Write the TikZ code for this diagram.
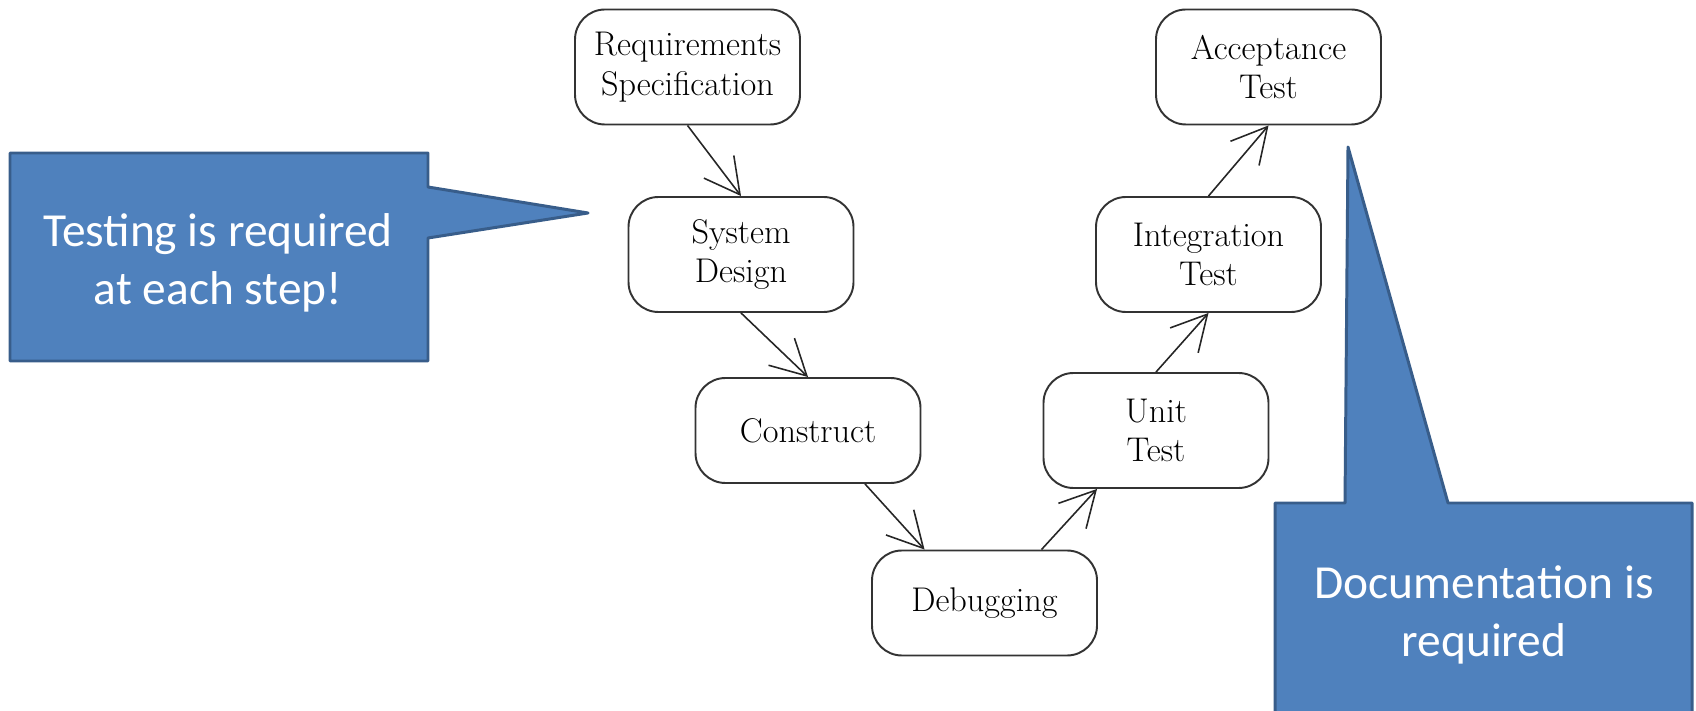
\documentclass[tikz,border=0pt]{standalone}
\usepackage{fontspec}
\newfontfamily\calloutfont{Carlito}
\usetikzlibrary{arrows.meta}
\definecolor{calloutfill}{HTML}{4F81BD}
\definecolor{calloutline}{HTML}{385D8A}

\begin{document}
\begin{tikzpicture}[
		stage/.style={draw=black!80, line width=1.1pt, rounded corners=0.6cm, minimum width=4.5cm, minimum height=2.3cm, inner sep=0pt, align=center, font=\fontsize{19.5}{22.5}\selectfont},
		flow/.style={line width=0.9pt, draw=black!85, -{Straight Barb[length=0.7cm, width=0.75cm]}},
		callout/.style={fill=calloutfill, draw=calloutline, line width=1.7pt, line join=round},
		callouttext/.style={text=white, align=center, font=\calloutfont\fontsize{27}{33}\selectfont}
	]
		%%%%% START %%%%%
		
		\useasboundingbox (0, 0) rectangle (33.92, 14.2);
		\clip (0, 0) rectangle (33.92, 14.2);
		
		% left callout
		\draw[callout] (0.2, 11.14) -- (8.56, 11.14) -- (8.56, 10.46) -- (11.76, 9.94) -- (8.56, 9.44) -- (8.56, 6.98) -- (0.2, 6.98) -- cycle;
		\node[callouttext] (testnote) at (4.36, 8.95) {Testing is required\\at each step!};
		
		% right callout
		\draw[callout] (25.5, 4.14) -- (26.9, 4.14) -- (26.96, 11.26) -- (28.96, 4.14) -- (33.84, 4.14) -- (33.84, -1) -- (25.5, -1) -- cycle;
		\node[callouttext] (docnote) at (29.68, 1.9) {Documentation is\\required};
		
		% stages
		\node[stage] (req) at (13.75, 12.86) {Requirements\\Specification};
		\node[stage] (sys) at (14.82, 9.11) {System\\Design};
		\node[stage, minimum height=2.1cm] (con) at (16.16, 5.59) {Construct};
		\node[stage, minimum height=2.1cm] (deb) at (19.69, 2.14) {Debugging};
		\node[stage] (unit) at (23.12, 5.59) {Unit\\Test};
		\node[stage] (integ) at (24.17, 9.11) {Integration\\Test};
		\node[stage] (acc) at (25.37, 12.86) {Acceptance\\Test};
		
		% arrows
		\draw[flow] (req.south) -- (sys.north);
		\draw[flow] (sys.south) -- (con.north);
		\draw[flow] ([xshift=1.14cm]con.south) -- ([xshift=-1.2cm]deb.north);
		\draw[flow] ([xshift=1.14cm]deb.north) -- ([xshift=-1.18cm]unit.south);
		\draw[flow] (unit.north) -- (integ.south);
		\draw[flow] (integ.north) -- (acc.south);
		
		%%%%% END %%%%%
\end{tikzpicture}
\end{document}
